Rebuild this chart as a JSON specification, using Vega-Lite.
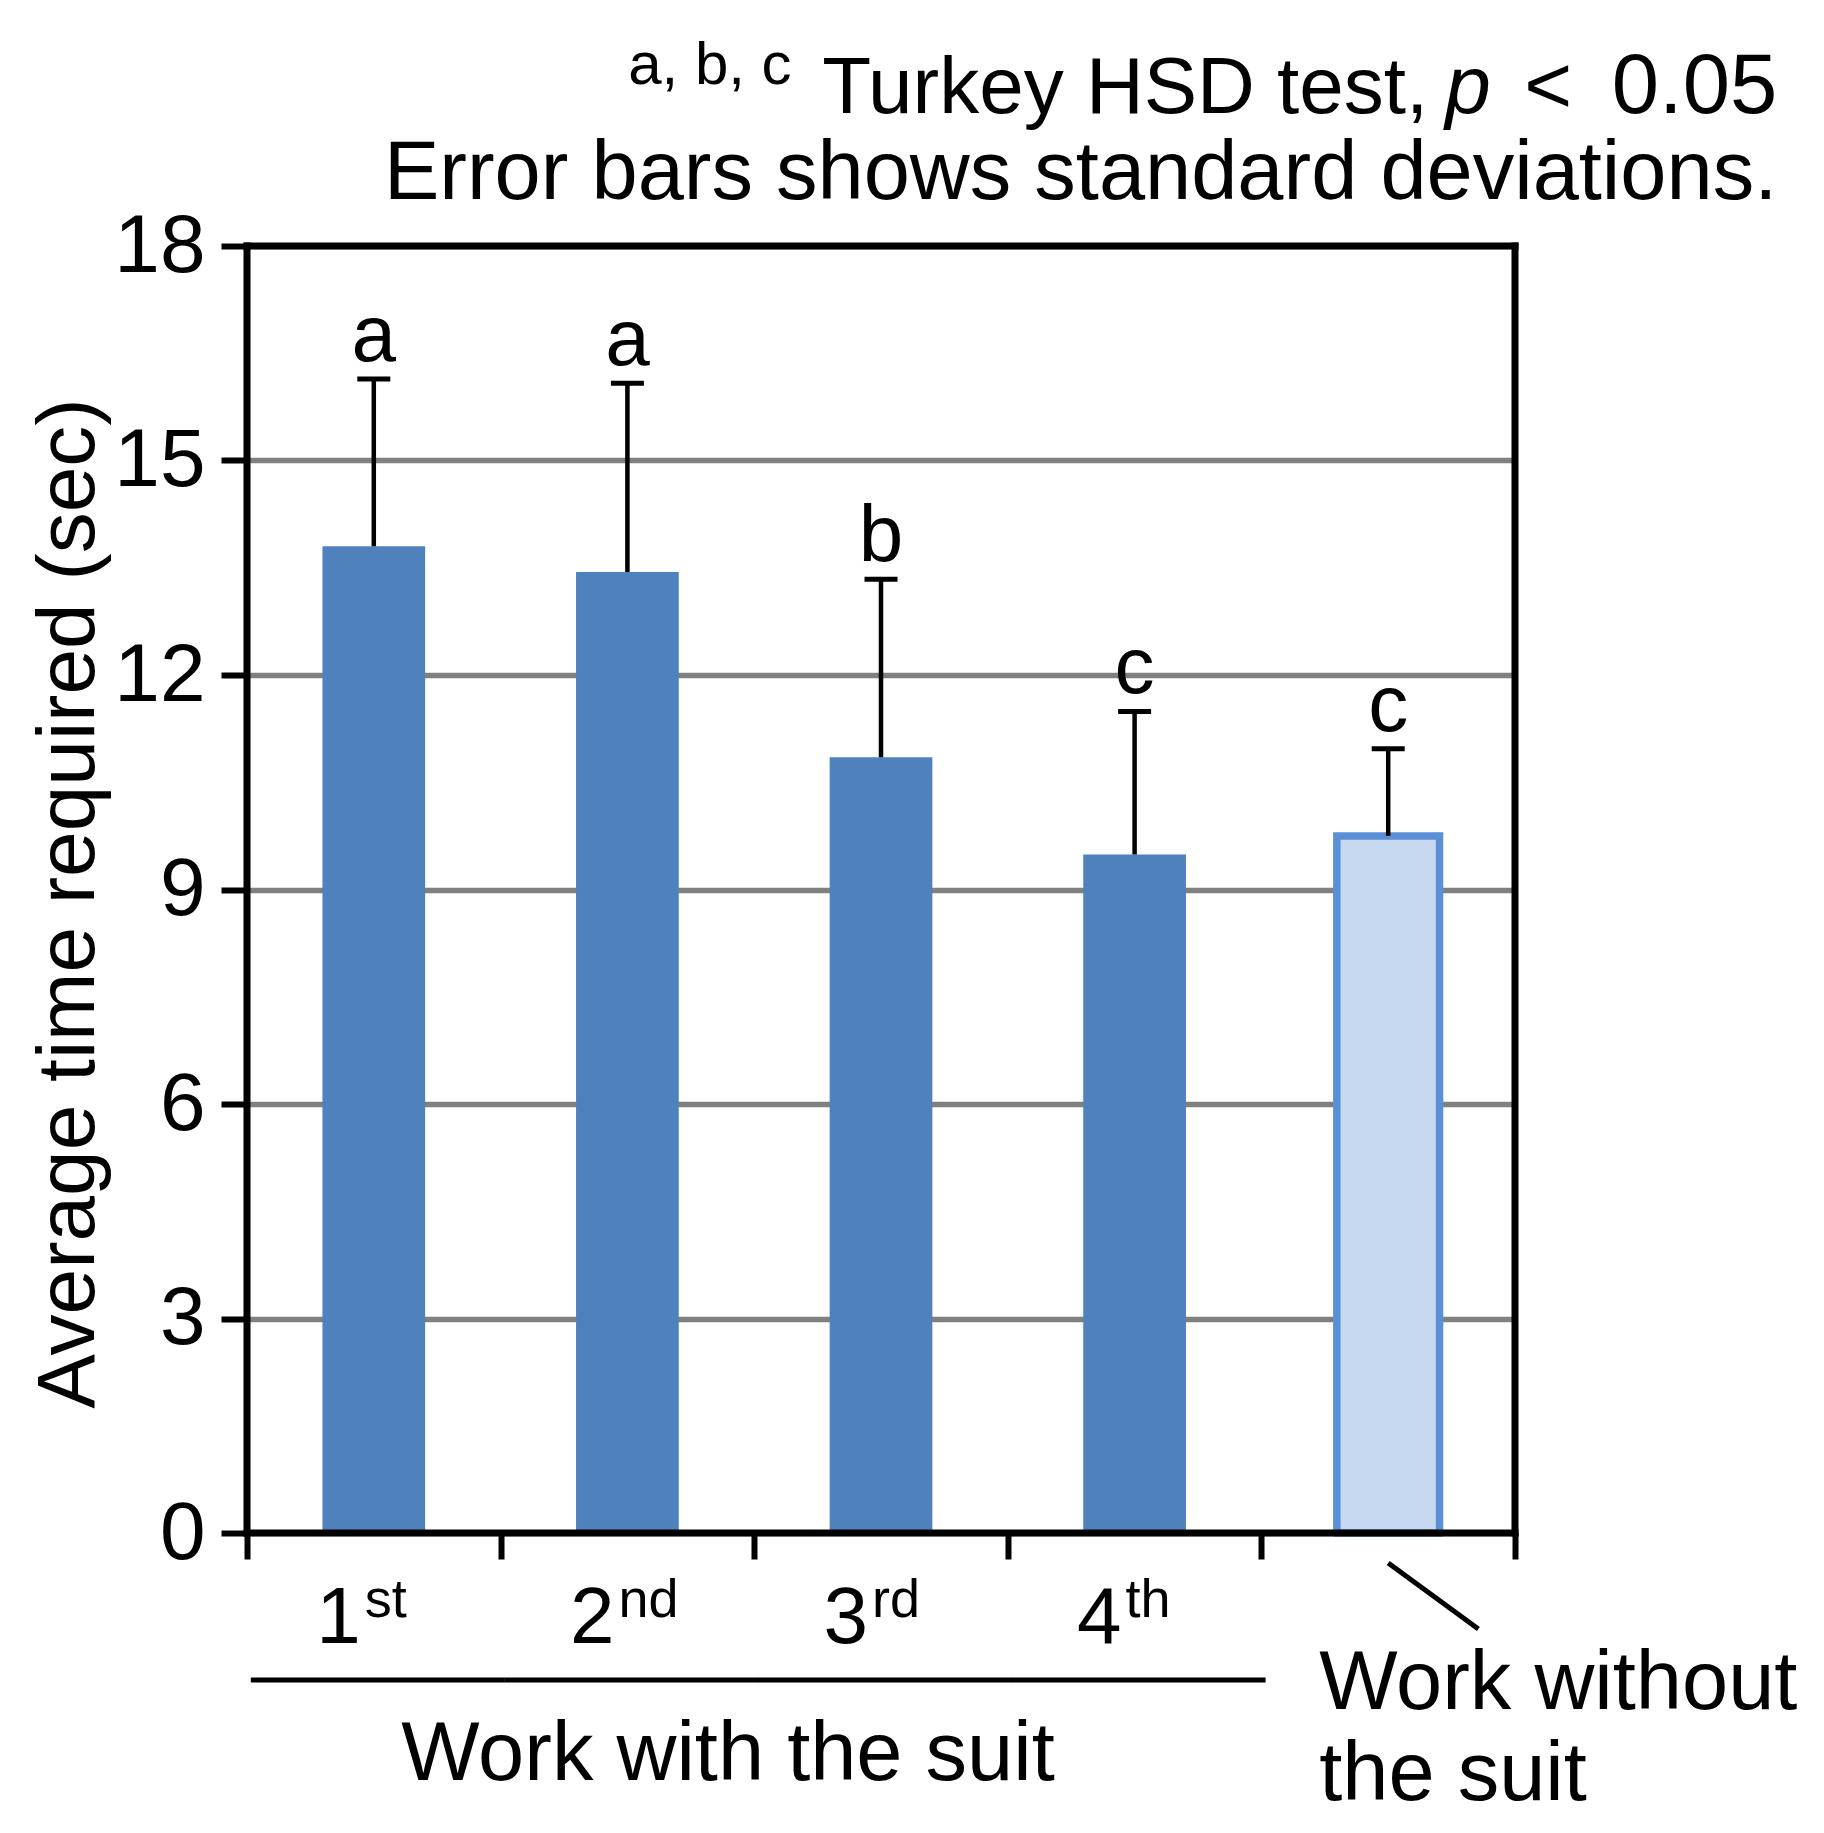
{
  "$schema": "https://vega.github.io/schema/vega-lite/v6.json",
  "width": 1268,
  "height": 1287,
  "autosize": {"type": "none"},
  "padding": {"left": 247, "top": 246, "right": 309, "bottom": 300},
  "background": "white",
  "config": {
    "view": {"stroke": null},
    "font": "Liberation Sans",
    "text": {"font": "Liberation Sans", "color": "black"}
  },
  "datasets": {
    "bars": [
      {"cat": "1st", "group": "with", "mean": 13.8, "upper": 16.14, "letter": "a", "num": "1", "sup": "st"},
      {"cat": "2nd", "group": "with", "mean": 13.44, "upper": 16.08, "letter": "a", "num": "2", "sup": "nd"},
      {"cat": "3rd", "group": "with", "mean": 10.85, "upper": 13.34, "letter": "b", "num": "3", "sup": "rd"},
      {"cat": "4th", "group": "with", "mean": 9.49, "upper": 11.49, "letter": "c", "num": "4", "sup": "th"},
      {"cat": "without", "group": "without", "mean": 9.75, "upper": 10.97, "letter": "c", "num": "", "sup": ""}
    ]
  },
  "data": {"name": "bars"},
  "layer": [
    {
      "mark": {"type": "bar", "width": {"band": 0.405}},
      "encoding": {
        "x": {
          "field": "cat", "type": "nominal", "sort": null,
          "scale": {"domain": ["1st", "2nd", "3rd", "4th", "without"], "paddingInner": 0, "paddingOuter": 0},
          "axis": {"title": null, "labels": false, "domain": false, "grid": false, "ticks": true, "tickBand": "extent", "tickSize": 26, "tickWidth": 6, "tickColor": "black"}
        },
        "y": {
          "field": "mean", "type": "quantitative",
          "scale": {"domain": [0, 18], "nice": false, "zero": true},
          "axis": {
            "values": [0, 3, 6, 9, 12, 15, 18],
            "format": "d",
            "title": "Average time required (sec)",
            "titleFont": "Liberation Sans", "titleFontSize": 82, "titleFontWeight": "normal", "titleColor": "black",
            "titleAngle": -90, "titleX": -179, "titleY": 657, "titleAlign": "center", "titleBaseline": "middle",
            "labelFont": "Liberation Sans", "labelFontSize": 82, "labelColor": "black", "labelPadding": 16,
            "tickSize": 26, "tickWidth": 6, "tickColor": "black",
            "domain": false, "grid": true, "gridColor": "#808080", "gridWidth": 5.5
          }
        },
        "fill": {"field": "group", "type": "nominal", "scale": {"domain": ["with", "without"], "range": ["#4F81BD", "#C6D9F1"]}, "legend": null},
        "stroke": {"field": "group", "type": "nominal", "scale": {"domain": ["with", "without"], "range": ["#4F81BD", "#5B8FD6"]}, "legend": null},
        "strokeWidth": {"field": "group", "type": "ordinal", "scale": {"domain": ["with", "without"], "range": [0, 7.5]}, "legend": null}
      }
    },
    {
      "mark": {"type": "rule", "color": "black", "strokeWidth": 4.5},
      "encoding": {
        "x": {"field": "cat", "type": "nominal", "sort": null},
        "y": {"field": "mean", "type": "quantitative"},
        "y2": {"field": "upper"}
      }
    },
    {
      "mark": {"type": "tick", "color": "black", "opacity": 1, "size": 33, "thickness": 5, "orient": "horizontal"},
      "encoding": {
        "x": {"field": "cat", "type": "nominal", "sort": null},
        "y": {"field": "upper", "type": "quantitative"}
      }
    },
    {
      "mark": {"type": "text", "fontSize": 80, "baseline": "alphabetic", "dy": -18, "color": "black"},
      "encoding": {
        "x": {"field": "cat", "type": "nominal", "sort": null},
        "y": {"field": "upper", "type": "quantitative"},
        "text": {"field": "letter"}
      }
    },
    {
      "transform": [{"filter": "datum.group === 'with'"}],
      "mark": {"type": "text", "fontSize": 80, "baseline": "alphabetic", "align": "right", "dx": -13, "dy": 110, "color": "black"},
      "encoding": {
        "x": {"field": "cat", "type": "nominal", "sort": null},
        "y": {"datum": 0, "type": "quantitative"},
        "text": {"field": "num"}
      }
    },
    {
      "transform": [{"filter": "datum.group === 'with'"}],
      "mark": {"type": "text", "fontSize": 54, "baseline": "alphabetic", "align": "left", "dx": -9, "dy": 84, "color": "black"},
      "encoding": {
        "x": {"field": "cat", "type": "nominal", "sort": null},
        "y": {"datum": 0, "type": "quantitative"},
        "text": {"field": "sup"}
      }
    },
    {
      "transform": [{"filter": "datum.group === 'with'"}],
      "mark": {"type": "tick", "color": "black", "opacity": 1, "size": 254, "thickness": 5, "orient": "horizontal", "yOffset": 147, "xOffset": 4},
      "encoding": {
        "x": {"field": "cat", "type": "nominal", "sort": null},
        "y": {"datum": 0, "type": "quantitative"}
      }
    },
    {
      "data": {"values": [{"t": "Work with the suit", "at": "3rd"}]},
      "mark": {"type": "text", "fontSize": 83, "baseline": "alphabetic", "align": "center", "dx": -153, "dy": 247, "color": "black"},
      "encoding": {
        "x": {"field": "at", "type": "nominal", "sort": null},
        "y": {"datum": 0, "type": "quantitative"},
        "text": {"field": "t"}
      }
    },
    {
      "data": {"values": [{"t": "Work without\nthe suit", "at": "without"}]},
      "mark": {"type": "text", "fontSize": 83, "baseline": "alphabetic", "align": "left", "dx": -69, "dy": 176, "lineBreak": "\n", "lineHeight": 91, "color": "black"},
      "encoding": {
        "x": {"field": "at", "type": "nominal", "sort": null},
        "y": {"datum": 0, "type": "quantitative"},
        "text": {"field": "t"}
      }
    },
    {
      "data": {"values": [{"at": "without"}]},
      "mark": {"type": "point", "shape": "M 0 0 L 0.82 0.6", "size": 48400, "filled": false, "stroke": "black", "strokeWidth": 5, "opacity": 1, "yOffset": 30},
      "encoding": {
        "x": {"field": "at", "type": "nominal", "sort": null},
        "y": {"datum": 0, "type": "quantitative"}
      }
    },
    {
      "data": {"values": [{"t": "a, b, c", "at": "without"}]},
      "mark": {"type": "text", "fontSize": 60, "baseline": "alphabetic", "align": "left", "dx": -760, "dy": -162, "color": "black"},
      "encoding": {
        "x": {"field": "at", "type": "nominal", "sort": null},
        "y": {"datum": 18, "type": "quantitative"},
        "text": {"field": "t"}
      }
    },
    {
      "data": {"values": [{"t": "Turkey HSD test,", "at": "without"}]},
      "mark": {"type": "text", "fontSize": 80, "baseline": "alphabetic", "align": "left", "dx": -566, "dy": -133, "color": "black"},
      "encoding": {
        "x": {"field": "at", "type": "nominal", "sort": null},
        "y": {"datum": 18, "type": "quantitative"},
        "text": {"field": "t"}
      }
    },
    {
      "data": {"values": [{"t": "p", "at": "without"}]},
      "mark": {"type": "text", "fontSize": 82, "fontStyle": "italic", "baseline": "alphabetic", "align": "left", "dx": 57, "dy": -133, "color": "black"},
      "encoding": {
        "x": {"field": "at", "type": "nominal", "sort": null},
        "y": {"datum": 18, "type": "quantitative"},
        "text": {"field": "t"}
      }
    },
    {
      "data": {"values": [{"t": "<", "at": "without"}]},
      "mark": {"type": "text", "fontSize": 82, "baseline": "alphabetic", "align": "left", "dx": 136, "dy": -133, "color": "black"},
      "encoding": {
        "x": {"field": "at", "type": "nominal", "sort": null},
        "y": {"datum": 18, "type": "quantitative"},
        "text": {"field": "t"}
      }
    },
    {
      "data": {"values": [{"t": "0.05", "at": "without"}]},
      "mark": {"type": "text", "fontSize": 85, "baseline": "alphabetic", "align": "right", "dx": 389, "dy": -133, "color": "black"},
      "encoding": {
        "x": {"field": "at", "type": "nominal", "sort": null},
        "y": {"datum": 18, "type": "quantitative"},
        "text": {"field": "t"}
      }
    },
    {
      "data": {"values": [{"t": "Error bars shows standard deviations.", "at": "without"}]},
      "mark": {"type": "text", "fontSize": 83, "baseline": "alphabetic", "align": "right", "dx": 389, "dy": -47, "color": "black"},
      "encoding": {
        "x": {"field": "at", "type": "nominal", "sort": null},
        "y": {"datum": 18, "type": "quantitative"},
        "text": {"field": "t"}
      }
    },
    {
      "data": {"values": [{"edge": 0}, {"edge": 18}]},
      "mark": {"type": "rule", "color": "black", "strokeWidth": 7, "strokeCap": "square"},
      "encoding": {
        "y": {"field": "edge", "type": "quantitative"}
      }
    },
    {
      "data": {"values": [{"at": "1st"}]},
      "mark": {"type": "rule", "color": "black", "strokeWidth": 7, "strokeCap": "square"},
      "encoding": {
        "x": {"field": "at", "type": "nominal", "sort": null, "bandPosition": 0}
      }
    },
    {
      "data": {"values": [{"at": "without"}]},
      "mark": {"type": "rule", "color": "black", "strokeWidth": 7, "strokeCap": "square"},
      "encoding": {
        "x": {"field": "at", "type": "nominal", "sort": null, "bandPosition": 1}
      }
    }
  ]
}
